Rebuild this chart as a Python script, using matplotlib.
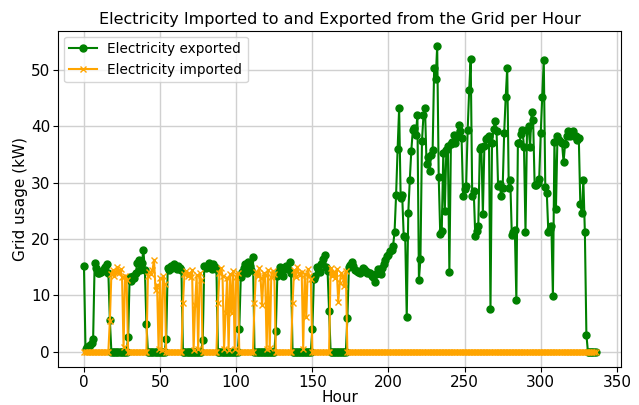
import matplotlib
matplotlib.use("Agg")
import matplotlib.pyplot as plt

# Electricity exported to the grid per hour (kW), hours 0..336
exported = [
    15.2, 0.5, 0.8, 1.0, 1.2, 1.5, 2.2, 15.7, 14.8, 14.0, 13.9, 14.2, 14.4, 14.6, 15.1, 15.6, 14.0, 5.6, 0, 0, 0, 0, 0, 0,
    0, 0, 0, 0, 0, 2.6, 13.3, 12.5, 13.4, 13.0, 14.0, 15.7, 16.3, 14.5, 15.8, 18.0, 14.5, 5.0, 0, 0, 0, 0, 0, 0,
    0, 0, 0, 0, 0, 0, 2.3, 14.8, 14.5, 15.2, 14.8, 15.5, 15.0, 14.6, 15.2, 14.8, 14.5, 0, 0, 0, 0, 0, 0, 0,
    0, 0, 0, 0, 0, 0, 2.0, 15.2, 14.8, 15.0, 15.7, 15.3, 14.7, 15.6, 15.0, 14.6, 0, 0, 0, 0, 0, 0, 0, 0,
    0, 0, 0, 0, 0, 0, 4.0, 13.3, 14.2, 14.8, 15.6, 14.0, 16.0, 15.2, 14.5, 16.8, 0, 0, 0, 0, 0, 0, 0, 0,
    0, 0, 0, 0, 0, 0, 3.6, 13.5, 14.4, 15.0, 14.2, 13.4, 14.8, 15.2, 14.6, 16.0, 14.0, 0, 0, 0, 0, 0, 0, 0,
    0, 0, 0, 0, 0, 0, 4.0, 12.9, 13.5, 15.0, 14.6, 14.2, 15.6, 16.4, 17.2, 15.0, 14.3, 7.3, 0, 0, 0, 0, 0, 0,
    0, 0, 0, 0, 0, 5.9, 15.0, 15.4, 16.0, 15.2, 14.5, 14.3, 14.2, 13.9, 14.3, 14.8, 14.6, 14.3, 13.9, 14.0, 13.9, 13.5, 13.2, 12.4,
    13.8, 14.6, 14.0, 13.8, 14.8, 15.5, 16.3, 16.9, 17.2, 17.8, 18.1, 18.7, 21.3, 27.8, 36.0, 43.2, 27.3, 27.8, 20.6, 20.3, 6.1, 24.6, 30.5, 35.7,
    39.4, 39.7, 38.5, 42.0, 12.8, 16.5, 37.4, 42.0, 43.2, 33.4, 34.6, 32.0, 35.0, 35.8, 50.3, 48.4, 54.2, 31.0, 20.9, 21.5, 35.2, 24.9, 35.8, 36.5,
    14.2, 36.8, 37.2, 38.5, 37.0, 38.2, 40.2, 39.1, 38.0, 27.7, 28.9, 29.4, 39.3, 46.4, 52.0, 27.7, 28.6, 20.6, 21.5, 22.4, 36.0, 36.3, 24.5, 36.6,
    37.7, 38.0, 38.3, 7.6, 37.1, 39.5, 40.9, 39.1, 29.4, 29.7, 27.7, 29.1, 38.9, 45.2, 50.4, 29.1, 30.5, 20.8, 21.2, 21.6, 9.2, 37.0, 37.0, 38.6,
    39.4, 36.4, 21.3, 39.4, 40.0, 36.4, 42.6, 41.2, 29.6, 29.6, 30.0, 30.7, 38.8, 45.2, 51.8, 29.2, 28.1, 21.2, 21.8, 22.4, 9.8, 37.2, 25.4, 38.3,
    37.6, 37.2, 37.0, 33.7, 36.8, 38.3, 39.1, 38.3, 38.5, 39.1, 38.3, 38.3, 37.6, 38.0, 26.3, 24.6, 30.5, 21.2, 3.0, 0, 0, 0, 0, 0,
    0,
]

# Electricity imported from the grid per hour (kW), hours 0..336
imported = [
    0, 0, 0, 0, 0, 0, 0, 0, 0, 0, 0, 0, 0, 0, 0, 0, 0, 5.5, 13.8, 14.5, 13.5, 14.2, 15.0, 13.9,
    14.6, 13.2, 0.8, 13.5, 12.8, 0, 0, 0, 0, 0, 0, 0, 0, 0, 0, 0, 0, 0, 13.5, 14.2, 13.8, 14.5, 16.3, 11.0,
    11.9, 0.5, 13.0, 0.3, 13.4, 12.0, 0, 0, 0, 0, 0, 0, 0, 0, 0, 0, 0, 8.6, 13.8, 14.3, 13.5, 14.0, 13.2, 14.5,
    0.3, 8.3, 13.6, 0.4, 13.9, 12.7, 0, 0, 0, 0, 0, 0, 0, 0, 0, 0, 8.6, 14.0, 14.8, 13.5, 0.5, 6.9, 13.0, 0.3,
    13.8, 6.8, 14.3, 0.5, 13.2, 14.0, 0, 0, 0, 0, 0, 0, 0, 0, 0, 0, 8.6, 14.2, 13.5, 14.8, 13.0, 8.3, 14.0, 13.6,
    0.4, 14.5, 0.6, 13.2, 14.4, 13.8, 0, 0, 0, 0, 0, 0, 0, 0, 0, 0, 0, 8.6, 14.5, 13.3, 15.1, 14.0, 13.6, 14.2,
    0.5, 13.8, 6.1, 14.6, 13.4, 12.9, 0, 0, 0, 0, 0, 0, 0, 0, 0, 0, 0, 0, 14.9, 13.5, 14.2, 13.0, 14.6, 8.9,
    12.2, 14.0, 13.4, 11.6, 14.4, 0, 0, 0, 0, 0, 0, 0, 0, 0, 0, 0, 0, 0, 0, 0, 0, 0, 0, 0,
    0, 0, 0, 0, 0, 0, 0, 0, 0, 0, 0, 0, 0, 0, 0, 0, 0, 0, 0, 0, 0, 0, 0, 0,
    0, 0, 0, 0, 0, 0, 0, 0, 0, 0, 0, 0, 0, 0, 0, 0, 0, 0, 0, 0, 0, 0, 0, 0,
    0, 0, 0, 0, 0, 0, 0, 0, 0, 0, 0, 0, 0, 0, 0, 0, 0, 0, 0, 0, 0, 0, 0, 0,
    0, 0, 0, 0, 0, 0, 0, 0, 0, 0, 0, 0, 0, 0, 0, 0, 0, 0, 0, 0, 0, 0, 0, 0,
    0, 0, 0, 0, 0, 0, 0, 0, 0, 0, 0, 0, 0, 0, 0, 0, 0, 0, 0, 0, 0, 0, 0, 0,
    0, 0, 0, 0, 0, 0, 0, 0, 0, 0, 0, 0, 0, 0, 0, 0, 0, 0, 0, 0, 0, 0, 0, 0,
    0,
]

hours_exp = list(range(len(exported)))
hours_imp = list(range(len(imported)))

title = "Electricity Imported to and Exported from the Grid per Hour"
xlabel = "Hour"
ylabel = "Grid usage (kW)"
x_ticks = [0, 50, 100, 150, 200, 250, 300, 350]
y_ticks = [0, 10, 20, 30, 40, 50]

fig = plt.figure(figsize=(6.39, 4.05), dpi=100)
ax = fig.add_axes([0.0914, 0.094, 0.8806, 0.829])

ax.plot(hours_exp, exported, color="green", marker="o", markersize=5,
        linewidth=1.5, label="Electricity exported")
ax.plot(hours_imp, imported, color="orange", marker="x", markersize=5,
        linewidth=1.5, label="Electricity imported")

ax.set_title(title, fontsize=11.5, pad=5)
ax.set_xlabel(xlabel, fontsize=11, labelpad=0)
ax.set_ylabel(ylabel, fontsize=11, labelpad=2)
ax.set_xticks(x_ticks)
ax.set_yticks(y_ticks)
ax.tick_params(labelsize=11, pad=2.5)
ax.grid(True, color="#d0d0d0", linewidth=1)
ax.set_axisbelow(True)
ax.legend(loc="upper left", fontsize=9.8, borderaxespad=0.4)

fig.savefig("out.png", dpi=100)
